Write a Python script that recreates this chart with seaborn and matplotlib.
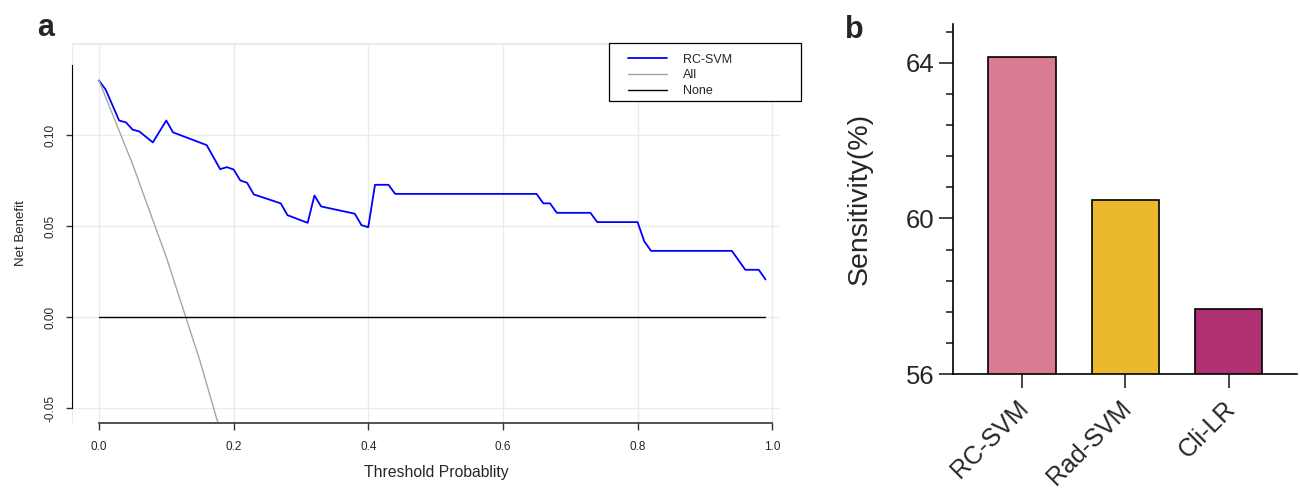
import numpy as np
import pandas as pd
import matplotlib
matplotlib.use("Agg")
import matplotlib.pyplot as plt
import matplotlib.transforms as mtransforms
from matplotlib.patches import Rectangle
import seaborn as sns

# ── data ─────────────────────────────────────────────────────────────────────
# decision curve (panel a) at its break points
thr_model = [0.00, 0.01, 0.03, 0.04, 0.05, 0.06, 0.08, 0.10, 0.11, 0.16,
             0.18, 0.19, 0.20, 0.21, 0.22, 0.23, 0.27, 0.28, 0.31, 0.32,
             0.33, 0.38, 0.39, 0.40, 0.41, 0.43, 0.44, 0.65, 0.66, 0.67,
             0.68, 0.73, 0.74, 0.80, 0.81, 0.82, 0.94, 0.96, 0.98, 0.99]
nb_model = [0.130, 0.125, 0.108, 0.107, 0.103, 0.102, 0.096, 0.108, 0.1015, 0.0945,
            0.0813, 0.0824, 0.0811, 0.0751, 0.0738, 0.0674, 0.0625, 0.0560, 0.0518, 0.0668,
            0.0608, 0.0568, 0.0505, 0.0494, 0.0727, 0.0727, 0.0677, 0.0677, 0.0625, 0.0625,
            0.0573, 0.0573, 0.0522, 0.0522, 0.0416, 0.0364, 0.0364, 0.0260, 0.0260, 0.0207]
thr_all = [0.00, 0.05, 0.10, 0.15, 0.20]
nb_all = [0.130, 0.084, 0.033, -0.024, -0.088]
thr_none = [0.00, 0.99]
nb_none = [0.0, 0.0]

# sensitivity bars (panel b)
models = ["RC-SVM", "Rad-SVM", "Cli-LR"]
sensitivity = [64.15, 60.47, 57.68]
bar_colors = ["#DA7B93", "#ECB82D", "#B03171"]

# ── style ────────────────────────────────────────────────────────────────────
sns.set_style("white")
plt.rcParams["font.family"] = ["Liberation Sans", "DejaVu Sans"]

fig = plt.figure(figsize=(13, 4.9), dpi=100)

# ── panel a: decision curve ─────────────────────────────────────────────────
ax1 = fig.add_axes([0.0554, 0.1367, 0.5438, 0.7755])
grid_c = "#ebebeb"
for gx in [0, 0.2, 0.4, 0.6, 0.8, 1.0]:
    ax1.axvline(gx, color=grid_c, lw=1, zorder=0)
for gy in [-0.05, 0, 0.05, 0.10, 0.15]:
    ax1.axhline(gy, color=grid_c, lw=1, zorder=0)
ax1.axvline(-0.04, color=grid_c, lw=1, zorder=0)

sns.lineplot(x=thr_model, y=nb_model, ax=ax1, color="#0000FF", lw=1.3,
             label="RC-SVM", estimator=None, sort=False)
sns.lineplot(x=thr_all, y=nb_all, ax=ax1, color="#A6A6A6", lw=1.0,
             label="All", estimator=None, sort=False)
sns.lineplot(x=thr_none, y=nb_none, ax=ax1, color="black", lw=1.0,
             label="None", estimator=None, sort=False)

ax1.set_xlim(-0.04, 1.01)
ax1.set_ylim(-0.0582, 0.1506)
ax1.set_xticks([0, 0.2, 0.4, 0.6, 0.8, 1.0])
ax1.set_xticklabels(["0.0", "0.2", "0.4", "0.6", "0.8", "1.0"])
ax1.set_yticks([-0.05, 0.0, 0.05, 0.10])
ax1.set_yticklabels(["-0.05", "0.00", "0.05", "0.10"], rotation=90, va="center")
ax1.tick_params(axis="x", direction="out", length=5, width=1, pad=8,
                labelsize=8.5, bottom=True, color="#333333")
ax1.tick_params(axis="y", direction="out", length=4.5, width=1, pad=7,
                labelsize=8.5, left=True, color="#333333")
ax1.set_xlabel("Threshold Probablity", fontsize=11.3)
ax1.xaxis.set_label_coords(0.516, -0.11)
ax1.set_ylabel("Net Benefit", fontsize=9.5, labelpad=12)

ax1.spines["right"].set_visible(False)
ax1.spines["top"].set_color(grid_c)
ax1.spines["left"].set_color("black")
ax1.spines["left"].set_bounds(-0.05, 0.1385)
ax1.spines["bottom"].set_color("#333333")
ax1.spines["bottom"].set_bounds(0, 1)
ax1.spines["bottom"].set_linewidth(1.2)

# legend box drawn separately so the entries can sit where R put them
ax1.add_patch(Rectangle((0.7595, 0.8474), 0.2716, 0.1534, transform=ax1.transAxes,
                        facecolor="white", edgecolor="black", lw=0.9,
                        clip_on=False, zorder=5))
leg = ax1.legend(loc="upper left", bbox_to_anchor=(0.7864, 0.972), frameon=False,
                 fontsize=9, handlelength=3.1, handletextpad=1.3, borderpad=0,
                 labelspacing=0.3, borderaxespad=0)
leg.set_zorder(6)
ax1.set_zorder(2)

fig.text(0.0285, 0.9265, "a", fontsize=22, fontweight="bold", va="baseline")

# ── panel b: sensitivity bars ────────────────────────────────────────────────
ax2 = fig.add_axes([0.7329, 0.2367, 0.2648, 0.7143])
df = pd.DataFrame({"model": models, "sens": sensitivity})
sns.barplot(data=df, x="model", y="sens", hue="model", palette=bar_colors,
            saturation=1, width=0.65, edgecolor="black", linewidth=1.2,
            legend=False, ax=ax2)
ax2.set_ylim(56, 65)
ax2.set_xlim(-0.67, 2.66)
ax2.set_yticks([56, 60, 64])
ax2.set_yticks(np.arange(56, 65.01, 0.8), minor=True)
ax2.tick_params(axis="y", which="major", length=10, width=1.2, labelsize=18.5,
                left=True, pad=3)
ax2.tick_params(axis="y", which="minor", length=5, width=1.2, left=True)
ax2.tick_params(axis="x", length=10, width=1.2, labelsize=18, bottom=True, pad=6)
shift = mtransforms.ScaledTranslation(-6 / 100, 0, fig.dpi_scale_trans)
for lab in ax2.get_xticklabels():
    lab.set_rotation(45)
    lab.set_ha("right")
    lab.set_rotation_mode("anchor")
    lab.set_transform(lab.get_transform() + shift)
ax2.set_xlabel("")
ax2.set_ylabel("Sensitivity(%)", fontsize=20.5, labelpad=24)
sns.despine(ax=ax2)
for s in ["left", "bottom"]:
    ax2.spines[s].set_color("black")
    ax2.spines[s].set_linewidth(1.2)

fig.text(0.650, 0.922, "b", fontsize=22, fontweight="bold", va="baseline")

fig.savefig("out.png", dpi=100)
